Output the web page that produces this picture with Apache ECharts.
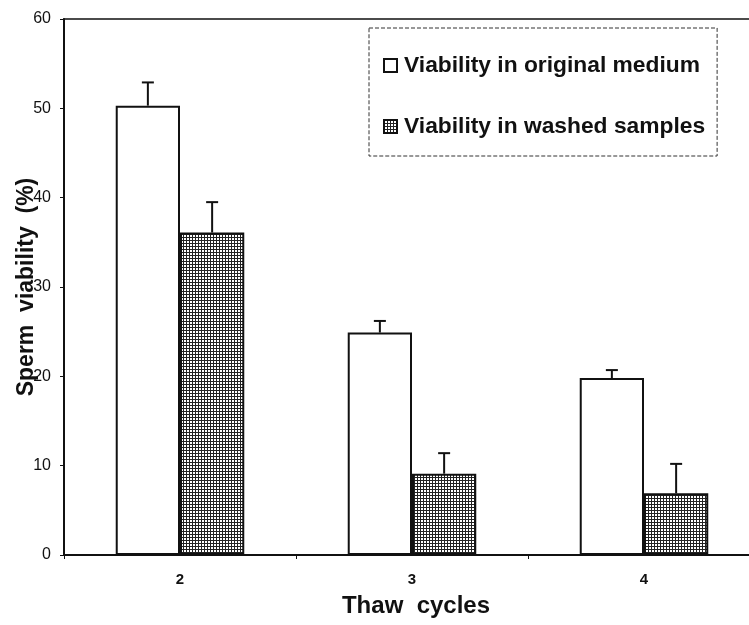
<!DOCTYPE html>
<html>
<head>
<meta charset="utf-8">
<script src="https://cdn.jsdelivr.net/npm/echarts@6/dist/echarts.min.js"></script>
<style>html,body{margin:0;padding:0;background:#fff;}#c{width:749px;height:625px;}</style>
</head>
<body>
<div id="c"></div>
<script>
// ---- data ----
var categories = ['2', '3', '4'];
var seriesNames = ['Viability in original medium', 'Viability in washed samples'];
var originalValues = [50.3, 24.9, 19.8];
var washedValues = [36.1, 9.1, 6.9];
var originalSD = [2.6, 1.3, 0.9];
var washedSD = [3.4, 2.3, 3.3];
var yTicks = [0, 10, 20, 30, 40, 50, 60];

// hatch pattern
function makeHatch() {
  var c = document.createElement('canvas');
  c.width = 3; c.height = 3;
  var ctx = c.getContext('2d');
  ctx.fillStyle = '#ffffff';
  ctx.fillRect(0, 0, 3, 3);
  ctx.fillStyle = '#222222';
  ctx.fillRect(0, 0, 1, 3);
  ctx.fillRect(0, 0, 3, 1);
  return c;
}
var hatch = { image: makeHatch(), repeat: 'repeat' };

var BAR_PCT = 0.277;
var FONT = 'Liberation Sans, Arial, sans-serif';

function errSeries(values, sds, side) {
  var data = values.map(function (v, i) { return [i, v, v + sds[i]]; });
  return {
    type: 'custom',
    silent: true,
    z: 5,
    data: data,
    renderItem: function (params, api) {
      var band = api.size([1, 0])[0];
      var off = side * band * BAR_PCT / 2;
      var p0 = api.coord([api.value(0), api.value(1)]);
      var p1 = api.coord([api.value(0), api.value(2)]);
      var x = p0[0] + off;
      var cap = 6;
      var st = { stroke: '#111', lineWidth: 2 };
      return {
        type: 'group',
        children: [
          { type: 'line', shape: { x1: x, y1: p0[1], x2: x, y2: p1[1] }, style: st },
          { type: 'line', shape: { x1: x - cap, y1: p1[1], x2: x + cap, y2: p1[1] }, style: st }
        ]
      };
    }
  };
}

var chart = echarts.init(document.getElementById('c'), null, { renderer: 'canvas' });
chart.setOption({
  backgroundColor: '#ffffff',
  animation: false,
  grid: {
    left: 64, right: -11, top: 19, bottom: 70,
    containLabel: false, outerBoundsMode: 'none',
    show: true, borderColor: '#111', borderWidth: 1.5, backgroundColor: 'transparent'
  },
  legend: {
    orient: 'vertical',
    left: 369, top: 28,
    padding: [26, 12, 18, 14],
    itemGap: 38,
    itemWidth: 13, itemHeight: 13,
    icon: 'rect',
    borderColor: '#333', borderWidth: 1, borderType: 'dashed',
    textStyle: { fontFamily: FONT, fontWeight: 'bold', fontSize: 22.8, color: '#111', padding: [0, 0, 0, 2] },
    data: seriesNames
  },
  xAxis: {
    type: 'category',
    data: categories,
    name: 'Thaw  cycles',
    nameLocation: 'middle',
    nameGap: 39,
    nameMoveOverlap: false,
    nameTextStyle: { fontFamily: FONT, fontWeight: 'bold', fontSize: 24, color: '#111', padding: [0, 0, 0, 8] },
    axisLine: { lineStyle: { color: '#111', width: 2 } },
    axisTick: { show: true, length: 4, lineStyle: { color: '#111' } },
    axisLabel: { margin: 17, fontFamily: FONT, fontWeight: 'bold', fontSize: 15, color: '#111' }
  },
  yAxis: {
    type: 'value',
    min: yTicks[0], max: yTicks[yTicks.length - 1], interval: 10,
    name: 'Sperm  viability  (%)',
    nameLocation: 'middle',
    nameGap: 26,
    nameMoveOverlap: false,
    nameTextStyle: { fontFamily: FONT, fontWeight: 'bold', fontSize: 23, color: '#111' },
    axisLine: { show: true, lineStyle: { color: '#111', width: 2 } },
    axisTick: { show: true, length: 4, lineStyle: { color: '#111' } },
    splitLine: { show: false },
    axisLabel: { margin: 13, fontFamily: FONT, fontSize: 16, color: '#111' }
  },
  series: [
    {
      name: seriesNames[0], type: 'bar', data: originalValues,
      barWidth: (BAR_PCT * 100) + '%', barGap: '0%',
      itemStyle: { color: '#ffffff', borderColor: '#111', borderWidth: 2 }
    },
    {
      name: seriesNames[1], type: 'bar', data: washedValues,
      barWidth: (BAR_PCT * 100) + '%', barGap: '0%',
      itemStyle: { color: hatch, borderColor: '#111', borderWidth: 2 }
    },
    errSeries(originalValues, originalSD, -1),
    errSeries(washedValues, washedSD, 1)
  ]
});
</script>
</body>
</html>
